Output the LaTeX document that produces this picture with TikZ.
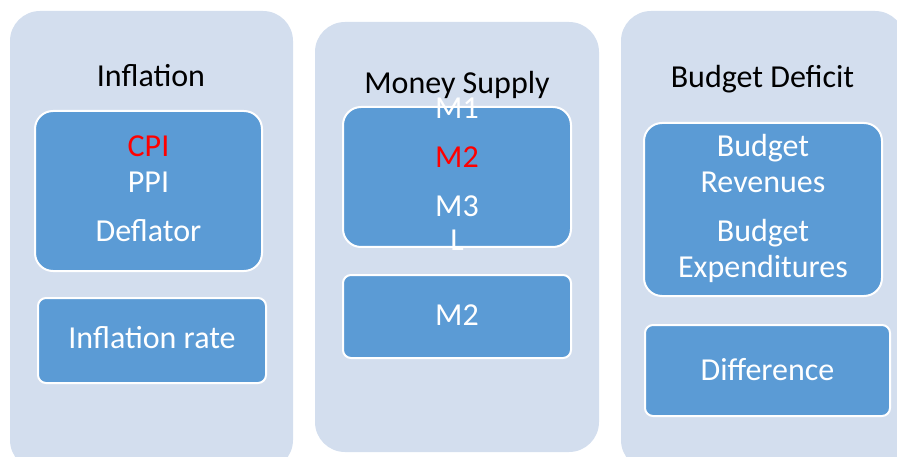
\documentclass[tikz,border=0pt]{standalone}
\usepackage{fontspec}
\setmainfont{Carlito}
\usetikzlibrary{positioning}

\definecolor{panelbg}{HTML}{D3DEEE}
\definecolor{boxblue}{HTML}{5B9BD5}
\tikzset{
  panel/.style={fill=panelbg,rounded corners=30pt,inner sep=0pt},
  box/.style={draw=white,line width=2pt,fill=boxblue,rounded corners=#1,inner sep=0pt},
  box/.default=18pt,
  title/.style={anchor=base,font=\fontsize{32}{38}\selectfont,text=black},
  item/.style={anchor=base,font=\fontsize{32}{38}\selectfont,text=white},
  hot/.style={item,text=red}
}

\begin{document}
\begin{tikzpicture}[x=1pt,y=-1pt]
    \useasboundingbox (0,0) rectangle (897,457);
    \clip (0,0) rectangle (897,457);
    % panels
    \node[panel,minimum width=283pt,minimum height=459pt] (inflpanel) at (151.5,240.5) {};
    \node[panel,minimum width=284pt,minimum height=430pt] (moneypanel) at (457,237) {};
    \node[panel,minimum width=284pt,minimum height=459pt] (budgetpanel) at (763,240.5) {};
    % inner boxes
    \node[box,minimum width=227pt,minimum height=160pt] (inflbox) at (148.5,191) {};
    \node[box=8pt,minimum width=228pt,minimum height=85pt] (ratebox) at (152,340.5) {};
    \node[box,minimum width=228pt,minimum height=140pt] (moneybox) at (457,177) {};
    \node[box=8pt,minimum width=228pt,minimum height=83pt] (mtwobox) at (457,316.5) {};
    \node[box,minimum width=238pt,minimum height=173pt] (budgetbox) at (763,209.5) {};
    \node[box=8pt,minimum width=245pt,minimum height=91pt] (diffbox) at (767.5,370.5) {};
    % Inflation
    \node[title] (infltitle) at (151,87) {Inflation};
    \node[hot] (cpi) at (148.5,157) {CPI};
    \node[item] (ppi) at (148.5,193) {PPI};
    \node[item] (deflator) at (148.5,241) {Deflator};
    \node[item] (rate) at (152,348) {Inflation rate};
    % Money Supply
    \node[title] (moneytitle) at (457,94) {Money Supply};
    \node[item] (mone) at (457,119) {M1};
    \node[hot] (mtwo) at (457,168) {M2};
    \node[item] (mthree) at (457,217) {M3};
    \node[item] (lagg) at (457,251) {L};
    \node[item] (mtwolbl) at (457,325) {M2};
    % Budget Deficit
    \node[title] (budgettitle) at (762.5,88) {Budget Deficit};
    \node[item] (revone) at (763,157) {Budget};
    \node[item] (revtwo) at (763,193) {Revenues};
    \node[item] (expone) at (763,241) {Budget};
    \node[item] (exptwo) at (763,277) {Expenditures};
    \node[item] (difference) at (767.5,380) {Difference};
\end{tikzpicture}
\end{document}
